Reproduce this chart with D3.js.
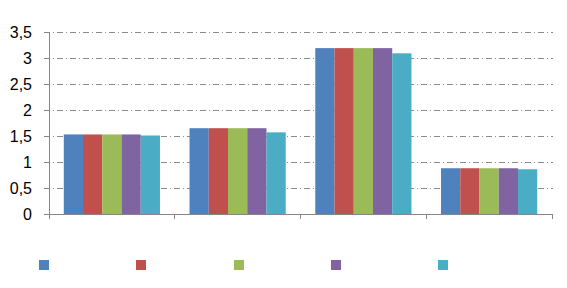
<html>
<head>
<script src="https://cdn.jsdelivr.net/npm/d3@7/dist/d3.min.js"></script>
<style>
  body { margin: 0; background: #fff; }
  .tick text { font: 16px "Liberation Sans", sans-serif; fill: #000; }
</style>
</head>
<body>
<svg width="567" height="288"></svg>
<script>
// data
var categories = ["A", "B", "C", "D"];
var seriesNames = ["", " ", "  ", "   ", "    "];
var s1 = [1.53, 1.65, 3.19, 0.88];
var s2 = [1.53, 1.65, 3.19, 0.88];
var s3 = [1.53, 1.65, 3.19, 0.88];
var s4 = [1.53, 1.65, 3.19, 0.88];
var s5 = [1.51, 1.57, 3.09, 0.86];
var yTicks = [0, 0.5, 1, 1.5, 2, 2.5, 3, 3.5];

var series = [s1, s2, s3, s4, s5];
var colors = ["#4F81BD", "#C0504D", "#9BBB59", "#8064A2", "#4BACC6"];
var legendX = [39, 136, 234, 331, 438];

var svg = d3.select("svg"),
    margin = {top: 32, left: 49, right: 15},
    width = 567 - margin.left - margin.right,
    height = 182,
    g = svg.append("g").attr("transform", "translate(" + margin.left + "," + margin.top + ")");

var x = d3.scaleBand().domain(categories).range([0, width]).paddingInner(0.235).paddingOuter(0.1175);
var x1 = d3.scaleBand().domain(d3.range(series.length)).range([0, x.bandwidth()]);
var y = d3.scaleLinear().domain([0, 3.5]).range([height, 0]);

// gridlines
g.append("g").selectAll("line")
  .data(yTicks.slice(1))
  .enter().append("line")
  .attr("x1", -5).attr("x2", width + 1)
  .attr("y1", function (d) { return y(d); })
  .attr("y2", function (d) { return y(d); })
  .attr("stroke", "#8c8c8c")
  .attr("stroke-dasharray", "6,3,1,3")
  .attr("shape-rendering", "crispEdges");

// bars
series.forEach(function (s, i) {
  g.append("g").selectAll("rect")
    .data(s)
    .enter().append("rect")
    .attr("x", function (d, j) { return x(categories[j]) + x1(i); })
    .attr("y", function (d) { return y(d); })
    .attr("width", x1.bandwidth())
    .attr("height", function (d) { return height - y(d); })
    .attr("fill", colors[i]);
});

// y axis
var yAxis = g.append("g")
  .call(d3.axisLeft(y).tickValues(yTicks).tickSize(5).tickPadding(12)
    .tickFormat(function (d) { return String(d).replace(".", ","); }));
yAxis.selectAll("line, path").attr("stroke", "#868686").attr("shape-rendering", "crispEdges");
yAxis.select(".domain").attr("d", "M-5,0H0V" + (height + 5));
yAxis.selectAll(".tick text").attr("font-family", null).attr("font-size", null);

// x axis with boundary ticks
var xAxis = g.append("g").attr("transform", "translate(0," + height + ")");
xAxis.append("line").attr("x1", 0).attr("x2", width).attr("stroke", "#868686").attr("shape-rendering", "crispEdges");
var step = x.step();
xAxis.selectAll(".bt")
  .data(categories)
  .enter().append("line")
  .attr("x1", function (d) { return x(d) - x.paddingInner() * step / 2 + step; })
  .attr("x2", function (d) { return x(d) - x.paddingInner() * step / 2 + step; })
  .attr("y1", 0).attr("y2", 5)
  .attr("stroke", "#868686").attr("shape-rendering", "crispEdges");

// legend
var legend = svg.append("g").selectAll("g")
  .data(seriesNames)
  .enter().append("g")
  .attr("transform", function (d, i) { return "translate(" + legendX[i] + ",260)"; });
legend.append("rect").attr("width", 10).attr("height", 10).attr("fill", function (d, i) { return colors[i]; });
legend.append("text").attr("x", 14).attr("y", 9).style("font", "13px 'Liberation Sans'").text(function (d) { return d; });
</script>
</body>
</html>
